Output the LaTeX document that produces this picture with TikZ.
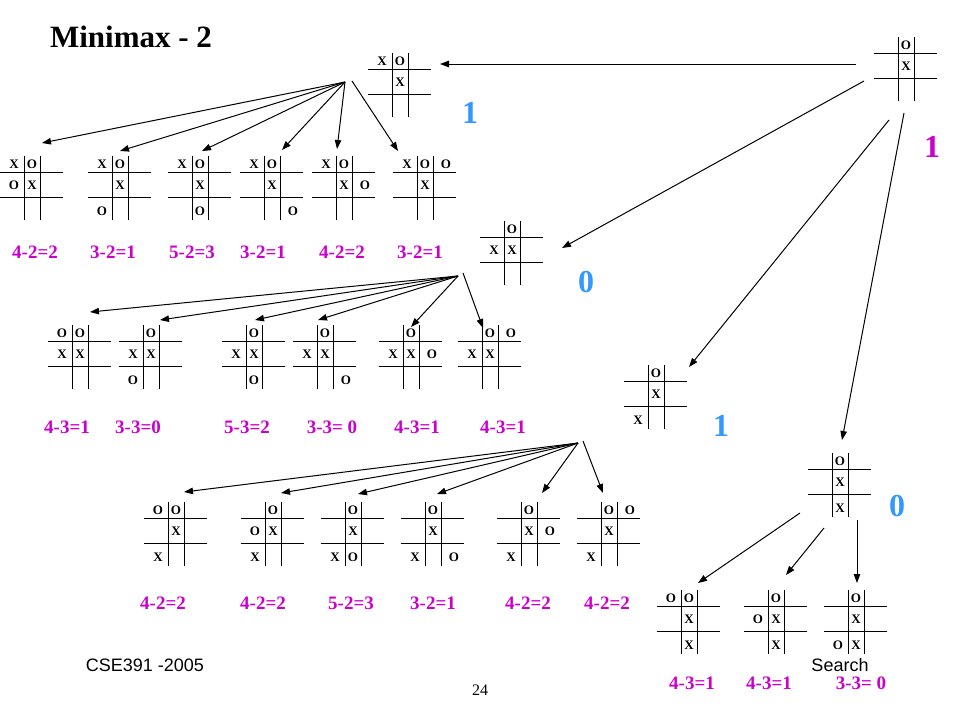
\documentclass[tikz,border=0pt]{standalone}
\usepackage{fontspec}
\setmainfont{Liberation Serif}
\setsansfont{Liberation Sans}
\usetikzlibrary{arrows.meta}
\definecolor{valpink}{RGB}{204,0,204}
\definecolor{valblue}{RGB}{51,153,255}

\tikzset{
  cell/.style={font=\fontsize{13}{13}\selectfont\bfseries, inner sep=0pt},
  score/.style={font=\fontsize{19}{19}\selectfont\bfseries, text=valpink},
  backed/.style={font=\fontsize{32}{32}\selectfont\bfseries, text=valblue},
  move/.style={-{Triangle[length=9pt,width=6.5pt]}},
}

% one tic-tac-toe board: name, top left corner, list of col/row/mark
\newcommand{\board}[4]{%
  \begin{scope}[shift={(#2,#3)}]
    \coordinate (#1) at (0,0);
    \draw (0,16) -- (63,16) (0,41) -- (63,41) (24,0) -- (24,64) (40,0) -- (40,64);
    \foreach \c/\r/\s in {#4} {
      \pgfmathsetmacro\cx{{14,32,53}[\c-1]}
      \pgfmathsetmacro\cy{{8,29,55}[\r-1]}
      \node[cell] (#1-\c\r) at (\cx,\cy) {\s};
    }
  \end{scope}}

\begin{document}
\begin{tikzpicture}[x=1pt,y=-1pt,line width=1pt]
  \useasboundingbox (0,0) rectangle (960,720);

  \node[font=\fontsize{31}{31}\selectfont\bfseries] (title) at (131,37) {Minimax - 2};

  % root and its four moves
  \board{root}{874}{37}{2/1/O, 2/2/X}
  \board{A}{368}{53}{1/1/X, 2/1/O, 2/2/X}
  \board{B}{480}{221}{2/1/O, 1/2/X, 2/2/X}
  \board{C}{624}{365}{2/1/O, 2/2/X, 1/3/X}
  \board{D}{808}{453}{2/1/O, 2/2/X, 2/3/X}

  % replies to A
  \board{a1}{0}{156}{1/1/X, 2/1/O, 1/2/O, 2/2/X}
  \board{a2}{88}{156}{1/1/X, 2/1/O, 2/2/X, 1/3/O}
  \board{a3}{168}{156}{1/1/X, 2/1/O, 2/2/X, 2/3/O}
  \board{a4}{240}{156}{1/1/X, 2/1/O, 2/2/X, 3/3/O}
  \board{a5}{312}{156}{1/1/X, 2/1/O, 2/2/X, 3/2/O}
  \board{a6}{393}{156}{1/1/X, 2/1/O, 3/1/O, 2/2/X}

  % replies to B
  \board{b1}{48}{325}{1/1/O, 2/1/O, 1/2/X, 2/2/X}
  \board{b2}{119}{325}{2/1/O, 1/2/X, 2/2/X, 1/3/O}
  \board{b3}{222}{325}{2/1/O, 1/2/X, 2/2/X, 2/3/O}
  \board{b4}{293}{325}{2/1/O, 1/2/X, 2/2/X, 3/3/O}
  \board{b5}{379}{325}{2/1/O, 1/2/X, 2/2/X, 3/2/O}
  \board{b6}{458}{325}{2/1/O, 3/1/O, 1/2/X, 2/2/X}

  % replies to C
  \board{c1}{144}{502}{1/1/O, 2/1/O, 2/2/X, 1/3/X}
  \board{c2}{241}{502}{2/1/O, 1/2/O, 2/2/X, 1/3/X}
  \board{c3}{321}{502}{2/1/O, 2/2/X, 1/3/X, 2/3/O}
  \board{c4}{401}{502}{2/1/O, 2/2/X, 1/3/X, 3/3/O}
  \board{c5}{497}{502}{2/1/O, 2/2/X, 3/2/O, 1/3/X}
  \board{c6}{577}{502}{2/1/O, 3/1/O, 2/2/X, 1/3/X}

  % replies to D
  \board{d1}{657}{590}{1/1/O, 2/1/O, 2/2/X, 2/3/X}
  \board{d2}{744}{590}{2/1/O, 1/2/O, 2/2/X, 2/3/X}
  \board{d3}{824}{590}{2/1/O, 2/2/X, 1/3/O, 2/3/X}

  % scores of the leaves
  \foreach \x/\t [count=\i] in {35/4-2=2, 113/3-2=1, 192/5-2=3, 263/3-2=1, 342/4-2=2, 420/3-2=1}
    \node[score] (sa\i) at (\x,252) {\t};
  \foreach \x/\t [count=\i] in {67/4-3=1, 138/3-3=0, 247/5-3=2, 332/3-3= 0, 417/4-3=1, 503/4-3=1}
    \node[score] (sb\i) at (\x,427) {\t};
  \foreach \x/\t [count=\i] in {163/4-2=2, 263/4-2=2, 351/5-2=3, 433/3-2=1, 528/4-2=2, 607/4-2=2}
    \node[score] (sc\i) at (\x,603) {\t};
  \foreach \x/\t [count=\i] in {692/4-3=1, 769/4-3=1, 861/3-3= 0}
    \node[score] (sd\i) at (\x,683) {\t};

  % backed up values
  \node[backed] (vA) at (470,113) {1};
  \node[backed] (vB) at (586,282) {0};
  \node[backed] (vC) at (721,426) {1};
  \node[backed] (vD) at (897,506) {0};
  \node[backed,text=valpink] (vroot) at (932,147) {1};

  % moves from the root
  \coordinate (r1) at (856,64);  \coordinate (tA) at (440,64);
  \coordinate (r2) at (864,81);  \coordinate (tB) at (562,248);
  \coordinate (r3) at (889,120); \coordinate (tC) at (689,367);
  \coordinate (r4) at (904,113); \coordinate (tD) at (842,440);
  \draw[move] (r1) -- (tA);
  \draw[move] (r2) -- (tB);
  \draw[move] (r3) -- (tC);
  \draw[move] (r4) -- (tD);

  % fan below A
  \coordinate (fa) at (345,82);
  \coordinate (fa') at (352,81);
  \foreach \x/\y [count=\i] in {42/143, 120/151, 202/151, 282/150, 337/149, 398/151}
    \coordinate (ta\i) at (\x,\y);
  \foreach \i in {1,...,5}
    \draw[move] (fa) -- (ta\i);
  \draw[move] (fa') -- (ta6);

  % fan below B
  \coordinate (fb) at (458,276);
  \coordinate (fb') at (463,273);
  \foreach \x/\y [count=\i] in {90/312, 160/320, 255/320, 318/320, 411/327, 483/328}
    \coordinate (tb\i) at (\x,\y);
  \foreach \i in {1,...,5}
    \draw[move] (fb) -- (tb\i);
  \draw[move] (fb') -- (tb6);

  % fan below C
  \coordinate (fc) at (578,443);
  \coordinate (fc') at (583,441);
  \foreach \x/\y [count=\i] in {184/492, 281/493, 358/494, 437/494, 542/493, 603/493}
    \coordinate (tc\i) at (\x,\y);
  \foreach \i in {1,...,5}
    \draw[move] (fc) -- (tc\i);
  \draw[move] (fc') -- (tc6);

  % moves below D
  \coordinate (fd1) at (800,513); \coordinate (td1) at (698,583);
  \coordinate (fd2) at (824,528); \coordinate (td2) at (786,575);
  \coordinate (fd3) at (857,520); \coordinate (td3) at (857,583);
  \foreach \i in {1,2,3}
    \draw[move] (fd\i) -- (td\i);

  % footer
  \node[font=\sffamily\fontsize{18}{18}\selectfont] (course) at (145,665) {CSE391 -2005};
  \node[font=\sffamily\fontsize{18}{18}\selectfont] (topic) at (840,665) {Search};
  \node[font=\fontsize{16}{16}\selectfont] (page) at (480,690) {24};
\end{tikzpicture}
\end{document}
